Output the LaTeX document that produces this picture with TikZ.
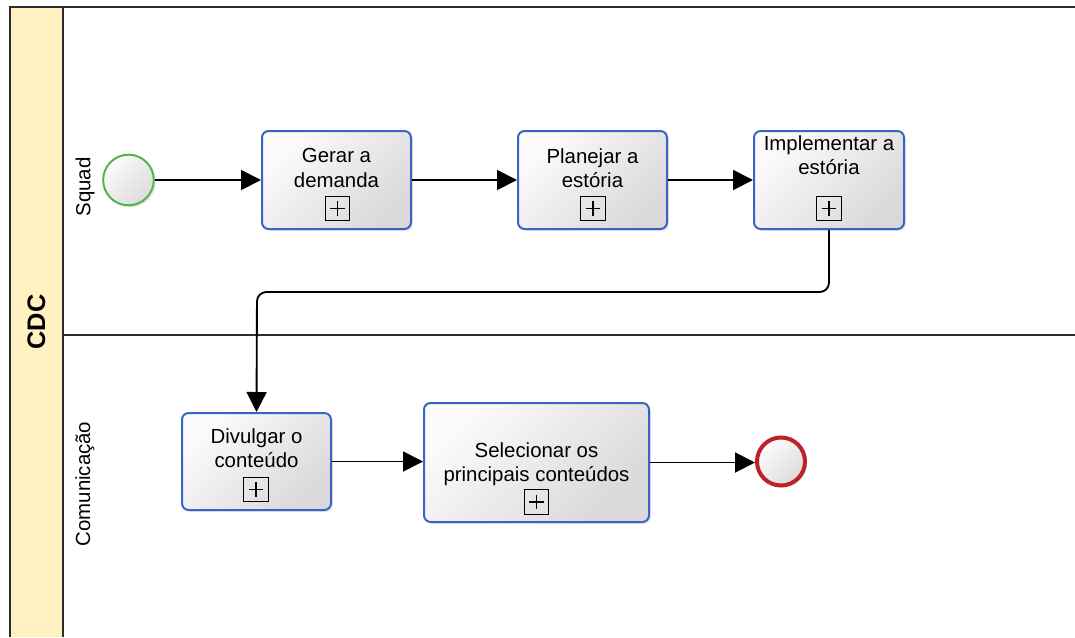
\documentclass[tikz,border=0pt]{standalone}
\usepackage{fontspec}
\setmainfont{Liberation Sans}
\usetikzlibrary{arrows.meta,shadows}

\definecolor{bandfill}{RGB}{255,241,193}
\definecolor{taskline}{RGB}{58,100,196}
\definecolor{startline}{RGB}{77,184,72}
\definecolor{endline}{RGB}{190,34,38}
\definecolor{poolline}{RGB}{45,45,45}

\begin{document}
\begin{tikzpicture}[x=0.75pt,y=0.75pt,yscale=-1,xscale=1,
  task/.style={draw=taskline, line width=1.5pt, rounded corners=5pt,
    top color=gray!3, bottom color=gray!30, shading angle=45,
    drop shadow={opacity=0.18, shadow xshift=1.5pt, shadow yshift=-1.5pt}},
  tasktext/.style={anchor=north, align=center, inner sep=0pt,
    font=\fontsize{15.3}{18.4}\selectfont},
  plusbox/.style={draw, line width=0.9pt, minimum size=18.5pt, inner sep=0pt,
    path picture={\draw[line width=0.8pt] (path picture bounding box.center) ++(-5.5pt,0) -- ++(11pt,0)
      (path picture bounding box.center) ++(0,-5.5pt) -- ++(0,11pt);}},
  event/.style={circle, inner sep=0pt, top color=gray!3, bottom color=gray!28, shading angle=45,
    drop shadow={opacity=0.18, shadow xshift=1.5pt, shadow yshift=-1.5pt}},
  flow/.style={line width=1.4pt, -{Triangle[length=15pt,width=15pt]}},
  lanetext/.style={rotate=90, inner sep=0pt, font=\fontsize{15.3}{18.4}\selectfont}]
\useasboundingbox (0,0) rectangle (1075,637);

%Shape: Pool band
\fill[bandfill] (10,7) rectangle (63,637);
%Straight Lines: pool borders
\draw[poolline, line width=1.5pt] (10,637) -- (10,7) -- (1075,7);
\draw[poolline, line width=1.2pt] (63,7) -- (63,637);
\draw[poolline, line width=1.2pt] (63,335) -- (1075,335);

% Text Node: pool and lanes
\node[lanetext, font=\fontsize{19}{22}\selectfont\bfseries] (pool) at (36.5,322) {CDC};
\node[lanetext] (squad) at (85,187) {Squad};
\node[lanetext] (comunic) at (85,484) {Comunicação};

%Shape: Start event
\node[event, draw=startline, line width=1.5pt, minimum size=38pt] (start) at (128.5,180) {};
%Shape: End event
\node[event, draw=endline, line width=3pt, minimum size=36pt] (fim) at (781,461.5) {};

%Shape: Tasks
\node[task, minimum width=111.75pt, minimum height=73.5pt] (gerar) at (336.5,180) {};
\node[task, minimum width=111.75pt, minimum height=73.5pt] (planejar) at (592.5,180) {};
\node[task, minimum width=112.5pt, minimum height=73.5pt] (implementar) at (829,180) {};
\node[task, minimum width=111.75pt, minimum height=72.75pt] (divulgar) at (256.5,461.5) {};
\node[task, minimum width=168.75pt, minimum height=89.25pt] (selecionar) at (536.5,462.5) {};

% Text Node
\node[tasktext] (gerarT) at (336.5,148) {Gerar a\\demanda};
\node[tasktext] (planejarT) at (592.5,148) {Planejar a\\estória};
\node[tasktext] (implementarT) at (829,135) {Implementar a\\estória};
\node[tasktext] (divulgarT) at (256.5,428) {Divulgar o\\conteúdo};
\node[tasktext] (selecionarT) at (536.5,442) {Selecionar os\\principais conteúdos};

%Shape: Sub-process markers
\node[plusbox] (gerarP) at (337.5,208.5) {};
\node[plusbox] (planejarP) at (593,208.5) {};
\node[plusbox] (implementarP) at (829,208.5) {};
\node[plusbox] (divulgarP) at (256,489.5) {};
\node[plusbox] (selecionarP) at (536.5,502) {};

%Straight Lines: sequence flows
\draw[flow] (start) -- (gerar);
\draw[flow] (gerar) -- (planejar);
\draw[flow] (planejar) -- (implementar);
\coordinate (turn) at (257,292);
\draw[flow, rounded corners=7pt] (implementar.south) |- (turn) -- (divulgar.north);
\draw[flow] (divulgar.east) -- (divulgar.east -| selecionar.west);
\draw[flow] (selecionar.east) -- (selecionar.east -| fim.west);

\end{tikzpicture}
\end{document}
